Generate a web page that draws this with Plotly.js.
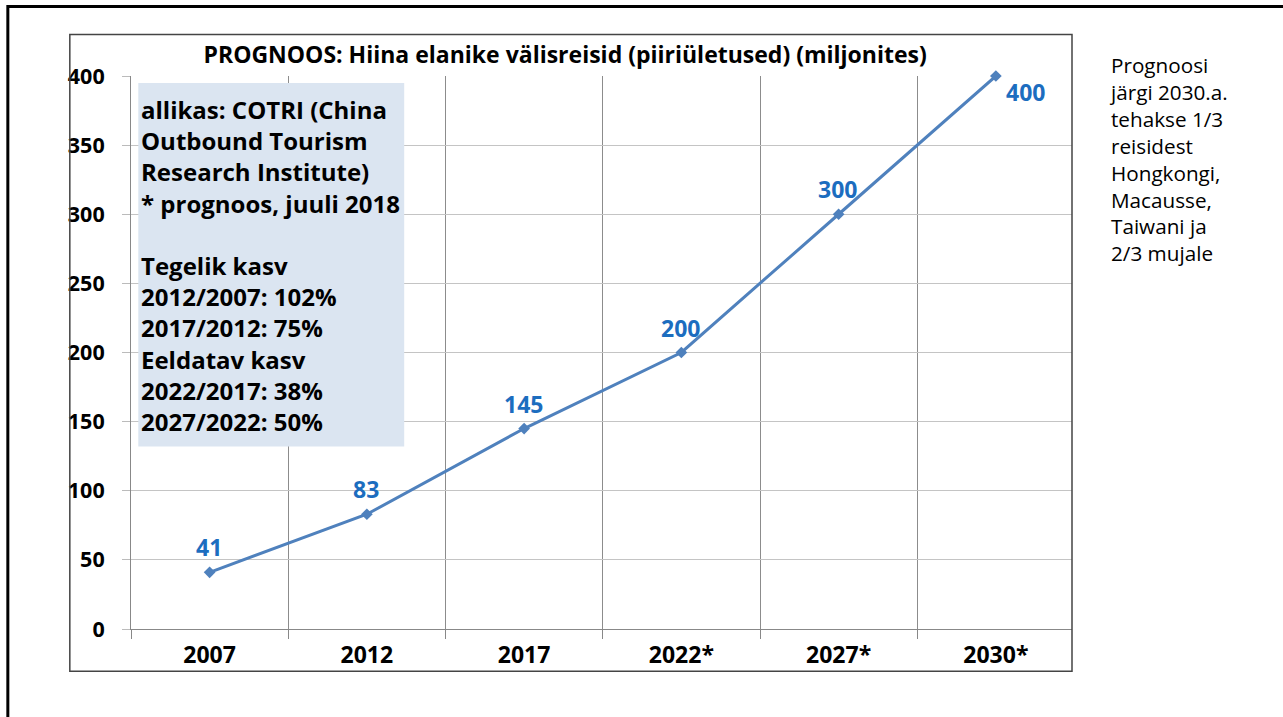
<!DOCTYPE html>
<html>
<head>
<meta charset="utf-8">
<script src="https://cdn.plot.ly/plotly-3.0.1.min.js"></script>
<style>
html,body{margin:0;padding:0;background:#fff;}
#chart{width:1283px;height:717px;}
</style>
</head>
<body>
<div id="chart"></div>
<script>
// ---- data ----
const years = ["2007", "2012", "2017", "2022*", "2027*", "2030*"];
const trips = [41, 83, 145, 200, 300, 400];
const yTicks = [0, 50, 100, 150, 200, 250, 300, 350, 400];

const chartTitle = "PROGNOOS: Hiina elanike välisreisid (piiriületused) (miljonites)";
const boxLines = [
  "allikas: COTRI (China",
  "Outbound Tourism",
  "Research Institute)",
  "* prognoos, juuli 2018",
  "",
  "Tegelik kasv",
  "2012/2007: 102%",
  "2017/2012: 75%",
  "Eeldatav kasv",
  "2022/2017: 38%",
  "2027/2022: 50%"
];
const sideLines = [
  "Prognoosi",
  "järgi 2030.a.",
  "tehakse 1/3",
  "reisidest",
  "Hongkongi,",
  "Macausse,",
  "Taiwani ja",
  "2/3 mujale"
];

// ---- layout geometry (pixels) ----
const W = 1283, H = 717;
const plotL = 130.7, plotR = 1072, plotT = 76, plotB = 629.3;
const pw = plotR - plotL, ph = plotB - plotT;
const px = v => (v - plotL) / pw;   // pixel x -> paper
const py = v => (plotB - v) / ph;   // pixel y -> paper
const catW = 157.3;
const xMax = 5.5 - (plotL + 6 * catW - plotR) / catW;

const FONT = "Open Sans, Noto Sans, Arial, sans-serif";
const lineColor = "#4F81BD";
const labelColor = "#1C6DBF";

const trace = {
  x: years,
  y: trips,
  type: "scatter",
  mode: "lines+markers",
  line: {color: lineColor, width: 3},
  marker: {symbol: "diamond", size: 9, color: lineColor},
  hoverinfo: "x+y",
  cliponaxis: false
};

// category axis: annotations positioned by category index
const labelAnns = years.map((yr, i) => {
  const last = i === years.length - 1;
  return {
    x: i, y: trips[i], xref: "x", yref: "y",
    text: String(trips[i]), showarrow: false,
    xshift: last ? 30 : -1, yshift: last ? -16 : 25,
    font: {family: FONT, size: 23, color: labelColor, weight: "bold"}
  };
});

const annotations = labelAnns.concat([
  {
    xref: "paper", yref: "paper",
    x: px(139), y: py(266), xanchor: "left", yanchor: "middle",
    align: "left", showarrow: false,
    text: boxLines.map(s => s === "" ? " " : "<b>" + s + "</b>").join("<br>"),
    font: {family: FONT, size: 24, color: "#000"}
  },
  {
    xref: "paper", yref: "paper",
    x: px(1107), y: py(159), xanchor: "left", yanchor: "middle",
    align: "left", showarrow: false,
    text: sideLines.join("<br>"),
    font: {family: FONT, size: 20.7, color: "#000"}
  }
]);

const shapes = [
  // info box
  {type: "rect", xref: "paper", yref: "paper", layer: "above",
   x0: px(138), x1: px(404), y0: py(446.7), y1: py(83),
   fillcolor: "#DBE5F1", line: {width: 0}},
  // chart frame
  {type: "rect", xref: "paper", yref: "paper", layer: "above",
   x0: px(69.5), x1: px(1072), y0: py(671.5), y1: py(34.5),
   fillcolor: "rgba(0,0,0,0)", line: {color: "#444", width: 1.5}},
  // slide frame (left + top)
  {type: "path", xref: "paper", yref: "paper", layer: "above",
   path: "M " + px(7.5) + " " + py(730) + " L " + px(7.5) + " " + py(6.5) + " L " + px(1300) + " " + py(6.5),
   line: {color: "#000", width: 3}}
];

const layout = {
  width: W, height: H,
  margin: {l: plotL, r: W - plotR, t: plotT, b: H - plotB, pad: 0},
  paper_bgcolor: "#fff",
  plot_bgcolor: "#fff",
  showlegend: false,
  title: {
    text: "<b>" + chartTitle + "</b>",
    x: px(565), xref: "paper", xanchor: "center",
    y: 1 - 55 / H, yref: "container", yanchor: "middle",
    font: {family: FONT, size: 23, color: "#000"}
  },
  xaxis: {
    type: "category",
    range: [-0.5, xMax],
    tickson: "boundaries",
    ticks: "outside", ticklen: 9, tickcolor: "#888", tickwidth: 1,
    showgrid: true, gridcolor: "#8C8C8C", gridwidth: 1,
    showline: true, linecolor: "#888", linewidth: 1,
    tickfont: {family: FONT, size: 23, color: "#000", weight: "bold"},
    ticklabelstandoff: 5,
    fixedrange: true
  },
  yaxis: {
    range: [0, 400],
    tickvals: yTicks,
    ticktext: yTicks.map(String),
    ticks: "outside", ticklen: 8, tickcolor: "#BBB", tickwidth: 1,
    showgrid: true, gridcolor: "#C4C4C4", gridwidth: 1,
    zeroline: false,
    showline: true, linecolor: "#888", linewidth: 1,
    tickfont: {family: FONT, size: 21.5, color: "#000", weight: "bold"},
    ticklabelstandoff: 13,
    fixedrange: true
  },
  annotations: annotations,
  shapes: shapes
};

Plotly.newPlot("chart", [trace], layout, {displayModeBar: false, staticPlot: true});
</script>
</body>
</html>
